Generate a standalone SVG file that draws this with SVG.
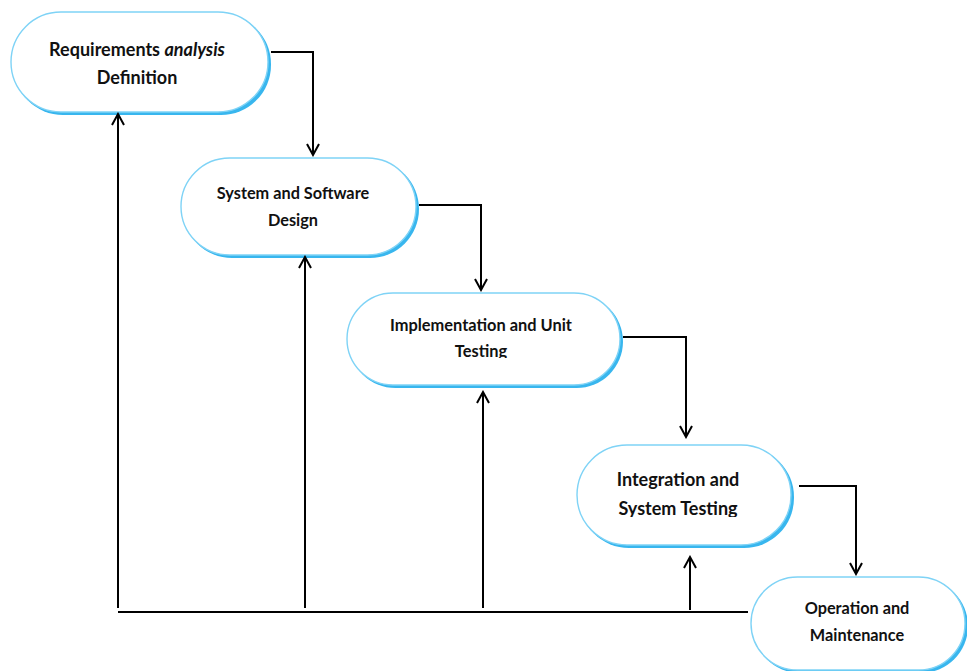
<svg xmlns="http://www.w3.org/2000/svg" width="967" height="671" viewBox="0 0 967 671">
<style>
.shadow{fill:#38b6ee;stroke:none}
.box{fill:#fff;stroke:#7fd3f6;stroke-width:1.4}
.t{font-family:Lato,"Liberation Sans",sans-serif;font-weight:bold;fill:#111;text-anchor:middle}
.c{fill:none;stroke:#000;stroke-width:2}
</style>
<defs>
<marker id="ah" viewBox="0 0 14 14" refX="12" refY="7" markerWidth="14" markerHeight="14" markerUnits="userSpaceOnUse" orient="auto">
<path d="M1,1 L12,7 L1,13" fill="none" stroke="#000" stroke-width="2"/>
</marker>
<clipPath id="clip3"><rect x="340" y="280" width="300" height="78"/></clipPath>
<clipPath id="clip4"><rect x="570" y="440" width="230" height="77"/></clipPath>
</defs>
<rect width="967" height="671" fill="#fff"/>
<g id="node1">
<rect class="shadow" x="13" y="14" width="258" height="101" rx="50"/>
<rect class="box" x="11" y="12" width="257" height="100" rx="50"/>
<text class="t" x="137" y="56" font-size="18">Requirements <tspan font-style="italic">analysis</tspan></text>
<text class="t" x="137" y="84" font-size="18">Definition</text>
</g>
<g id="node2">
<rect class="shadow" x="183" y="160" width="236" height="98" rx="49"/>
<rect class="box" x="181" y="158" width="235" height="97" rx="48.5"/>
<text class="t" x="293" y="199" font-size="16.3">System and Software</text>
<text class="t" x="293" y="226" font-size="16.3">Design</text>
</g>
<g id="node3">
<rect class="shadow" x="349" y="295" width="274" height="93" rx="46.5"/>
<rect class="box" x="347" y="293" width="273" height="92" rx="46"/>
<text class="t" x="481" y="331" font-size="16.4">Implementation and Unit</text>
<text class="t" x="481" y="357" font-size="16.4" clip-path="url(#clip3)">Testing</text>
</g>
<g id="node4">
<rect class="shadow" x="579" y="447" width="215" height="101" rx="50"/>
<rect class="box" x="577" y="445" width="214" height="100" rx="50"/>
<text class="t" x="678" y="486" font-size="18">Integration and</text>
<text class="t" x="678" y="515" font-size="18" clip-path="url(#clip4)">System Testing</text>
</g>
<g id="node5">
<rect class="shadow" x="753" y="579" width="215" height="94" rx="47"/>
<rect class="box" x="751" y="577" width="214" height="93" rx="46.5"/>
<text class="t" x="857" y="614" font-size="16.3">Operation and</text>
<text class="t" x="857" y="641" font-size="16.3">Maintenance</text>
</g>
<g id="connectors">
<polyline class="c" points="271,52 313,52 313,155" marker-end="url(#ah)"/>
<polyline class="c" points="419,205 481,205 481,290" marker-end="url(#ah)"/>
<polyline class="c" points="623,337 686,337 686,437" marker-end="url(#ah)"/>
<polyline class="c" points="799,486 856,486 856,574" marker-end="url(#ah)"/>
<line class="c" x1="118" y1="612" x2="748" y2="612"/>
<line class="c" x1="118" y1="608" x2="118" y2="114" marker-end="url(#ah)"/>
<line class="c" x1="305" y1="608" x2="305" y2="257" marker-end="url(#ah)"/>
<line class="c" x1="483" y1="608" x2="483" y2="392" marker-end="url(#ah)"/>
<line class="c" x1="690" y1="610" x2="690" y2="557" marker-end="url(#ah)"/>
</g>
</svg>
